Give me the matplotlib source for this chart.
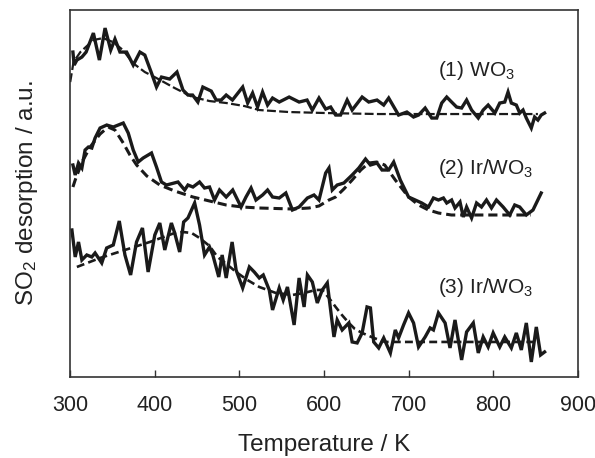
import matplotlib
matplotlib.use("Agg")
import matplotlib.pyplot as plt

plt.rcParams['font.family'] = ['Liberation Sans', 'DejaVu Sans']
plt.rcParams['mathtext.fontset'] = 'custom'
plt.rcParams['mathtext.rm'] = 'Liberation Sans'
plt.rcParams['mathtext.it'] = 'Liberation Sans:italic'

# (1) WO3
t1 = [303.2, 304.7, 307.9, 313.8, 318.8, 327.4, 334.5, 341.2, 347.9, 352.9, 358.8, 366.7,
      374.5, 382.4, 388.2, 396.1, 402.0, 407.9, 417.6, 426.2, 433.3, 439.2, 444.7, 450.9,
      456.8, 466.7, 472.6, 478.5, 484.4, 491.8, 503.9, 509.8, 515.6, 521.5, 527.4, 533.3,
      539.2, 547.1, 558.8, 570.6, 580.0, 586.2, 594.1, 602.0, 607.9, 613.8, 619.6, 627.4,
      633.3, 645.1, 652.9, 662.7, 670.6, 676.5, 688.2, 698.0, 705.9, 711.8, 719.6, 727.4,
      733.3, 739.2, 745.1, 750.9, 756.8, 762.7, 768.6, 774.5, 782.4, 788.2, 794.1, 802.0,
      807.8, 813.7, 817.6, 821.5, 827.4, 831.4, 835.3, 839.2, 845.1, 849.0, 852.9, 856.8,
      860.8]
s1 = [325, 312, 317, 320, 325, 344, 317, 349, 327, 338, 325, 325,
      312, 325, 322, 304, 290, 300, 298, 305, 287, 282, 282, 275,
      290, 286, 277, 277, 282, 277, 290, 274, 284, 270, 285, 272,
      279, 275, 280, 275, 277, 267, 279, 268, 270, 262, 262, 277,
      267, 280, 275, 277, 272, 279, 262, 265, 260, 262, 269, 259,
      259, 274, 280, 275, 270, 269, 277, 267, 259, 267, 272, 264,
      274, 275, 285, 274, 272, 264, 267, 259, 249, 260, 257, 262,
      264]
t1_fit = [300, 303.9, 312, 327.4, 338.8, 350.6, 362.4, 374.1, 388.2, 402, 423.5, 444.7,
          464.7, 484.7, 505.9, 523.5, 558.8, 602.4, 664.7, 747, 852.9]
s1_fit = [295, 315, 325, 337, 339, 335, 327, 314, 305, 299, 289, 280,
          276, 274, 271, 267, 265, 264, 263, 263, 263]

# (2) Ir/WO3
t2 = [303.2, 305.9, 309.8, 313.8, 317.6, 321.5, 325.5, 329.4, 335.3, 343.2, 350.9, 362.7,
      368.6, 374.5, 380.4, 386.2, 396.1, 402.0, 407.9, 413.8, 427.4, 435.3, 439.2, 445.1,
      452.9, 458.8, 464.7, 470.6, 476.5, 484.4, 492.1, 502.0, 507.8, 513.8, 519.6, 527.4,
      533.3, 539.2, 547.1, 554.9, 562.7, 570.6, 580.4, 588.2, 594.1, 602.0, 605.9, 609.8,
      615.6, 623.5, 633.3, 641.2, 649.1, 654.9, 662.7, 668.6, 676.5, 682.4, 690.2, 700.0,
      707.9, 715.6, 723.5, 729.4, 735.3, 741.2, 745.1, 750.9, 754.9, 760.8, 764.7, 768.6,
      774.5, 780.4, 786.2, 792.1, 798.0, 803.9, 811.8, 819.6, 825.5, 831.4, 839.2, 847.1,
      856.8]
s2 = [212, 202, 214, 209, 227, 230, 229, 239, 249, 252, 250, 254,
      244, 227, 215, 219, 224, 210, 195, 192, 195, 187, 192, 190,
      195, 189, 190, 177, 187, 180, 187, 170, 180, 189, 177, 182,
      187, 180, 179, 184, 167, 170, 179, 182, 177, 204, 209, 187,
      192, 194, 202, 209, 218, 212, 214, 207, 207, 215, 197, 180,
      177, 174, 170, 179, 177, 179, 174, 177, 169, 175, 160, 170,
      159, 174, 170, 177, 169, 177, 170, 162, 172, 170, 162, 167,
      184]
t2_fit = [303.2, 305.9, 314, 323.5, 335.3, 344.7, 352.9, 362.7, 370.6, 378.5, 390.6, 405.9,
          423.5, 445.1, 464.7, 484.4, 503.5, 523.5, 562.7, 582.4, 594.1, 605.9, 613.8, 623.5,
          633.3, 643.5, 652.9, 662.4, 671.8, 684.3, 700, 711.8, 723.5, 735.3, 750.6, 782.4,
          844.7]
s2_fit = [190, 197, 215, 230, 243, 250, 247, 234, 222, 212, 201, 192,
          186, 180, 176, 172, 170, 169, 168, 169, 171, 177, 180, 188,
          197, 207, 214, 215, 212, 197, 180, 172, 167, 164, 162, 162,
          162]

# (3) Ir/WO3
t3 = [302.0, 305.9, 309.8, 313.8, 319.6, 325.5, 329.4, 337.3, 343.1, 350.9, 358.0, 364.7,
      371.4, 378.4, 385.4, 392.1, 400.0, 405.9, 411.8, 419.6, 423.5, 429.4, 434.1, 439.2,
      447.1, 452.9, 458.8, 464.7, 468.6, 475.6, 479.6, 484.4, 491.4, 496.1, 503.9, 511.8,
      517.6, 523.5, 528.2, 535.3, 539.2, 547.1, 551.8, 556.8, 564.7, 570.6, 576.5, 580.4,
      586.2, 592.1, 598.0, 603.9, 611.8, 615.6, 621.5, 629.4, 633.3, 639.2, 645.1, 650.9,
      654.9, 658.8, 664.7, 670.6, 678.5, 684.3, 688.2, 694.1, 700.0, 705.9, 711.8, 719.6,
      725.5, 729.4, 735.3, 743.2, 749.0, 754.9, 762.7, 768.6, 776.5, 782.4, 788.2, 794.1,
      800.0, 807.8, 813.7, 821.5, 827.4, 833.3, 839.2, 845.1, 851.0, 856.1, 860.8]
s3 = [147, 120, 135, 117, 122, 120, 124, 114, 129, 132, 156, 122,
      102, 135, 149, 105, 142, 154, 127, 154, 144, 125, 155, 159,
      174, 152, 122, 130, 122, 100, 122, 99, 135, 107, 89, 110,
      105, 99, 102, 87, 67, 89, 77, 90, 52, 99, 70, 102,
      95, 74, 87, 94, 40, 57, 47, 54, 35, 34, 44, 70,
      69, 35, 29, 39, 24, 47, 39, 52, 64, 54, 30, 40,
      49, 47, 64, 54, 29, 57, 17, 45, 54, 24, 40, 30,
      44, 30, 40, 29, 44, 27, 54, 15, 50, 22, 25]
t3_fit = [307.9, 335.3, 364.7, 394.1, 423.5, 432.9, 443.5, 452.9, 464.7, 474.1, 484.7, 496.1,
          509.4, 523.5, 543.1, 562.7, 576.5, 590.2, 598.0, 605.9, 613.8, 621.2, 629.4, 636.5,
          645.1, 658.8, 672.5, 711.8, 782.4, 852.9]
s3_fit = [110, 119, 127, 135, 144, 145, 144, 139, 131, 120, 113, 105,
          97, 90, 84, 82, 84, 87, 87, 79, 70, 62, 54, 48,
          44, 39, 35, 35, 35, 35]

labels = ['(1) WO$_3$', '(2) Ir/WO$_3$', '(3) Ir/WO$_3$']
label_y = [307, 209, 89]

fig = plt.figure(figsize=(5.95, 4.58), dpi=100)
ax = fig.add_axes([0.118, 0.177, 0.853, 0.801])

ink = '#1a1a1a'
ax.plot(t1, s1, color=ink, lw=2.4, solid_joinstyle='miter')
ax.plot(t1_fit, s1_fit, color=ink, lw=1.6, ls=(0, (4, 1.5)))
ax.plot(t2, s2, color=ink, lw=2.4, solid_joinstyle='miter')
ax.plot(t2_fit, s2_fit, color=ink, lw=2.2, ls=(0, (3, 1.6)))
ax.plot(t3, s3, color=ink, lw=2.4, solid_joinstyle='miter')
ax.plot(t3_fit, s3_fit, color=ink, lw=1.9, ls=(0, (3, 1.6)))

for txt, y in zip(labels, label_y):
    ax.text(735, y, txt, fontsize=15, color='#222222', va='center', ha='left')

ax.set_xlim(300, 900)
ax.set_ylim(0, 367)
ax.set_xticks([300, 400, 500, 600, 700, 800, 900])
ax.set_yticks([])
ax.tick_params(axis='x', direction='in', length=5, width=1, colors='#333333',
               labelcolor='#222222', labelsize=15.5, pad=13)
for sp in ax.spines.values():
    sp.set_color('#333333')
    sp.set_linewidth(1.2)

ax.set_xlabel('Temperature / K', fontsize=17.5, color='#222222', labelpad=13)
ax.set_ylabel('SO$_2$ desorption / a.u.', fontsize=17.5, color='#222222', labelpad=22)

fig.savefig('out.png', dpi=100)
